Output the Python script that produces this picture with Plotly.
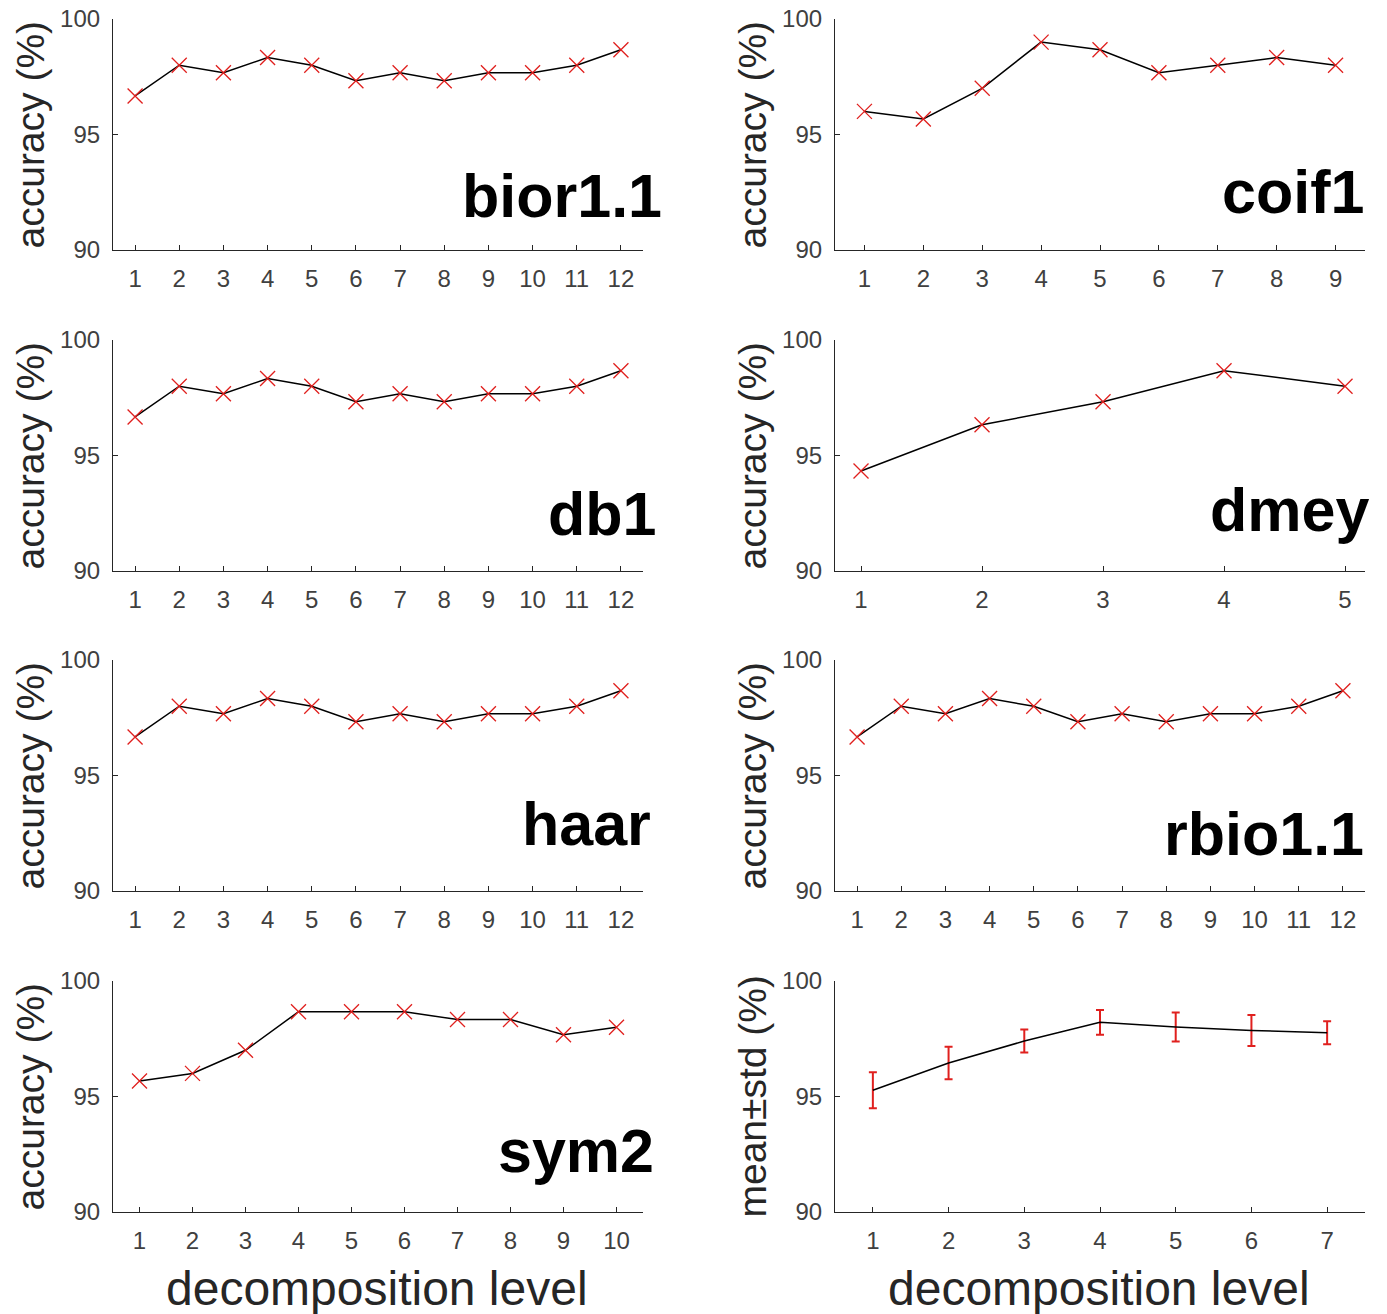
import plotly.graph_objects as go

W, H = 1387, 1314

# ---------------- data ----------------
bior_levels = list(range(1, 13))
bior_acc = [96.67, 98.0, 97.67, 98.33, 98.0, 97.33, 97.67, 97.33, 97.67, 97.67, 98.0, 98.67]

coif_levels = list(range(1, 10))
coif_acc = [96.0, 95.67, 97.0, 99.0, 98.67, 97.67, 98.0, 98.33, 98.0]

db1_levels = list(range(1, 13))
db1_acc = [96.67, 98.0, 97.67, 98.33, 98.0, 97.33, 97.67, 97.33, 97.67, 97.67, 98.0, 98.67]

dmey_levels = list(range(1, 6))
dmey_acc = [94.33, 96.33, 97.33, 98.67, 98.0]

haar_levels = list(range(1, 13))
haar_acc = [96.67, 98.0, 97.67, 98.33, 98.0, 97.33, 97.67, 97.33, 97.67, 97.67, 98.0, 98.67]

rbio_levels = list(range(1, 13))
rbio_acc = [96.67, 98.0, 97.67, 98.33, 98.0, 97.33, 97.67, 97.33, 97.67, 97.67, 98.0, 98.67]

sym2_levels = list(range(1, 11))
sym2_acc = [95.67, 96.0, 97.0, 98.67, 98.67, 98.67, 98.33, 98.33, 97.67, 98.0]

mean_levels = list(range(1, 8))
mean_acc = [95.27, 96.45, 97.40, 98.21, 98.01, 97.86, 97.76]
std_acc = [0.78, 0.70, 0.50, 0.54, 0.63, 0.67, 0.50]

y_ticks = [90, 95, 100]

# ---------------- layout helpers ----------------
def px_x(x):
    return x / W

def px_y(y):
    return 1 - y / H

col_x = [(113, 643), (835, 1365)]
row_y = [(19, 250), (340, 571), (660, 891), (981, 1212)]

panels = [
    # name, levels, values, xrange, row, col, ylabel, label right px, label center px
    ("bior1.1", bior_levels, bior_acc, [0.5, 12.5], 0, 0, "accuracy (%)", 664, 196),
    ("coif1", coif_levels, coif_acc, [0.5, 9.5], 0, 1, "accuracy (%)", 1366, 192),
    ("db1", db1_levels, db1_acc, [0.5, 12.5], 1, 0, "accuracy (%)", 658, 514),
    ("dmey", dmey_levels, dmey_acc, [0.785, 5.165], 1, 1, "accuracy (%)", 1371, 510),
    ("haar", haar_levels, haar_acc, [0.5, 12.5], 2, 0, "accuracy (%)", 653, 824),
    ("rbio1.1", rbio_levels, rbio_acc, [0.5, 12.5], 2, 1, "accuracy (%)", 1366, 834),
    ("sym2", sym2_levels, sym2_acc, [0.5, 10.5], 3, 0, "accuracy (%)", 656, 1151),
    (None, mean_levels, mean_acc, [0.5, 7.5], 3, 1, "mean\u00b1std (%)", None, None),
]

FONT = "Liberation Sans, Arial, Helvetica, sans-serif"
AX_COLOR = "#262626"
TICK_FONT = dict(family=FONT, size=24, color="#404040")
RED = "#e0201e"

fig = go.Figure()
annotations = []
layout_axes = {}

for i, (name, xs, ys, xr, r, c, ylab, lx, ly) in enumerate(panels):
    k = "" if i == 0 else str(i + 1)
    x0, x1 = col_x[c]
    yt, yb = row_y[r]
    xdom = [px_x(x0), px_x(x1)]
    ydom = [px_y(yb), px_y(yt)]
    common = dict(
        showline=True, linecolor=AX_COLOR, linewidth=1.2,
        ticks="inside", ticklen=5, tickcolor=AX_COLOR, tickwidth=1,
        showgrid=False, zeroline=False, tickfont=TICK_FONT, mirror=False,
        fixedrange=True, automargin=False,
    )
    layout_axes["xaxis" + k] = dict(
        domain=xdom, range=xr, tickmode="array", tickvals=xs,
        anchor="y" + k, ticklabelstandoff=7, **common)
    layout_axes["yaxis" + k] = dict(
        domain=ydom, range=[90, 100], tickmode="array", tickvals=y_ticks,
        anchor="x" + k, ticklabelstandoff=7, **common)

    if name is not None:
        fig.add_trace(go.Scatter(
            x=xs, y=ys, mode="lines+markers", xaxis="x" + k, yaxis="y" + k,
            line=dict(color="black", width=1.5),
            marker=dict(symbol="x-thin", size=15, line=dict(color=RED, width=1.3), color=RED),
            showlegend=False, cliponaxis=False,
        ))
        annotations.append(dict(
            text="<b>%s</b>" % name, xref="paper", yref="paper",
            x=px_x(lx), y=px_y(ly), xanchor="right", yanchor="middle",
            showarrow=False, font=dict(family=FONT, size=61, color="black"),
        ))
    else:
        fig.add_trace(go.Scatter(
            x=xs, y=ys, mode="lines", xaxis="x" + k, yaxis="y" + k,
            line=dict(color="black", width=1.5),
            error_y=dict(type="data", array=std_acc, visible=True,
                         color=RED, thickness=2, width=4),
            showlegend=False, cliponaxis=False,
        ))

    # y-axis title
    annotations.append(dict(
        text=ylab, xref="paper", yref="paper",
        x=px_x(x0 - 83), y=px_y((yt + yb) / 2), xanchor="center", yanchor="middle",
        textangle=-90, showarrow=False,
        font=dict(family=FONT, size=39, color="#262626"),
    ))

# x-axis titles
for c in range(2):
    x0, x1 = col_x[c]
    annotations.append(dict(
        text="decomposition level", xref="paper", yref="paper",
        x=px_x((x0 + x1) / 2 - 1), y=px_y(1288), xanchor="center", yanchor="middle",
        showarrow=False, font=dict(family=FONT, size=48, color="#262626"),
    ))

fig.update_layout(
    width=W, height=H,
    margin=dict(l=0, r=0, t=0, b=0, autoexpand=False),
    paper_bgcolor="white", plot_bgcolor="white",
    annotations=annotations,
    **layout_axes,
)

fig.write_html("out.html", config=dict(displayModeBar=False))
